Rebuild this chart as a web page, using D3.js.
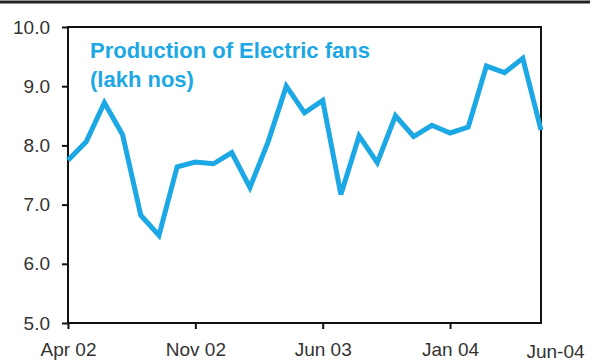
<!DOCTYPE html>
<html>
<head>
<meta charset="utf-8">
<script src="https://cdn.jsdelivr.net/npm/d3@7"></script>
<style>
  body { margin: 0; background: #fff; }
  svg { display: block; }
</style>
</head>
<body>
<svg id="chart" width="590" height="361"></svg>
<script>
// Data: monthly production of electric fans (lakh nos), Apr 2002 – Jun 2004
const months = ["Apr 02","May 02","Jun 02","Jul 02","Aug 02","Sep 02","Oct 02","Nov 02","Dec 02",
  "Jan 03","Feb 03","Mar 03","Apr 03","May 03","Jun 03","Jul 03","Aug 03","Sep 03","Oct 03",
  "Nov 03","Dec 03","Jan 04","Feb 04","Mar 04","Apr 04","May 04","Jun 04"];
const production = [7.75, 8.06, 8.72, 8.18, 6.82, 6.48, 7.64, 7.72, 7.69,
  7.88, 7.29, 8.06, 9.0, 8.55, 8.76, 7.17, 8.16, 7.71, 8.5,
  8.15, 8.34, 8.21, 8.31, 9.34, 9.23, 9.47, 8.26];
const xTickIndex = [0, 7, 14, 21, 26];
const xTickLabels = ["Apr 02", "Nov 02", "Jun 03", "Jan 04", "Jun-04"];
const yTicks = [5, 6, 7, 8, 9, 10];
const titleLines = ["Production of Electric fans", "(lakh nos)"];

(function () {
const svg = d3.select("#chart");
const mLeft = 68, mRight = 541, mTop = 27, mBottom = 323;
const lineColor = "#1ca8e4";
const textColor = "#333";

const x = d3.scaleLinear().domain([0, months.length - 1]).range([mLeft, mRight]);
const y = d3.scaleLinear().domain([5, 10]).range([mBottom, mTop]);

// top rule
svg.append("line").attr("x1", 0).attr("x2", 590).attr("y1", 2).attr("y2", 2)
  .attr("stroke", "#222").attr("stroke-width", 3);

// frame
svg.append("rect").attr("x", mLeft).attr("y", mTop)
  .attr("width", mRight - mLeft).attr("height", mBottom - mTop)
  .attr("fill", "none").attr("stroke", "#111").attr("stroke-width", 2);

// y axis
const yAxis = svg.append("g").attr("transform", `translate(${mLeft},0)`)
  .call(d3.axisLeft(y).tickValues(yTicks).tickFormat(d3.format(".1f")).tickSize(6).tickPadding(12));
yAxis.select(".domain").remove();
yAxis.selectAll(".tick line").attr("stroke", "#111").attr("stroke-width", 2);
yAxis.selectAll("text").attr("fill", textColor)
  .style("font-family", "'Liberation Sans', Arial, sans-serif").style("font-size", "19px");

// x axis
const xAxis = svg.append("g").attr("transform", `translate(0,${mBottom})`)
  .call(d3.axisBottom(x).tickValues(xTickIndex)
    .tickFormat((d, i) => xTickLabels[i]).tickSize(6).tickPadding(14));
xAxis.select(".domain").remove();
xAxis.selectAll(".tick line").attr("stroke", "#111").attr("stroke-width", 2);
xAxis.selectAll("text").attr("fill", textColor)
  .style("font-family", "'Liberation Sans', Arial, sans-serif").style("font-size", "19px");
// last label: no tick, slightly offset
const lastTick = xAxis.selectAll(".tick").filter(d => d === 26);
lastTick.select("line").remove();
lastTick.select("text").attr("dx", 14).attr("y", 22);

// line
const line = d3.line().x((d, i) => x(i)).y(d => y(d));
svg.append("path").datum(production)
  .attr("d", line)
  .attr("fill", "none")
  .attr("stroke", lineColor)
  .attr("stroke-width", 5)
  .attr("stroke-linejoin", "miter");

// title
svg.append("g").selectAll("text").data(titleLines).join("text")
  .attr("x", 90).attr("y", (d, i) => 58 + i * 29)
  .attr("fill", lineColor)
  .style("font-family", "'Liberation Sans', Arial, sans-serif")
  .style("font-size", "22px").style("font-weight", "bold")
  .text(d => d);
})();
</script>
</body>
</html>
